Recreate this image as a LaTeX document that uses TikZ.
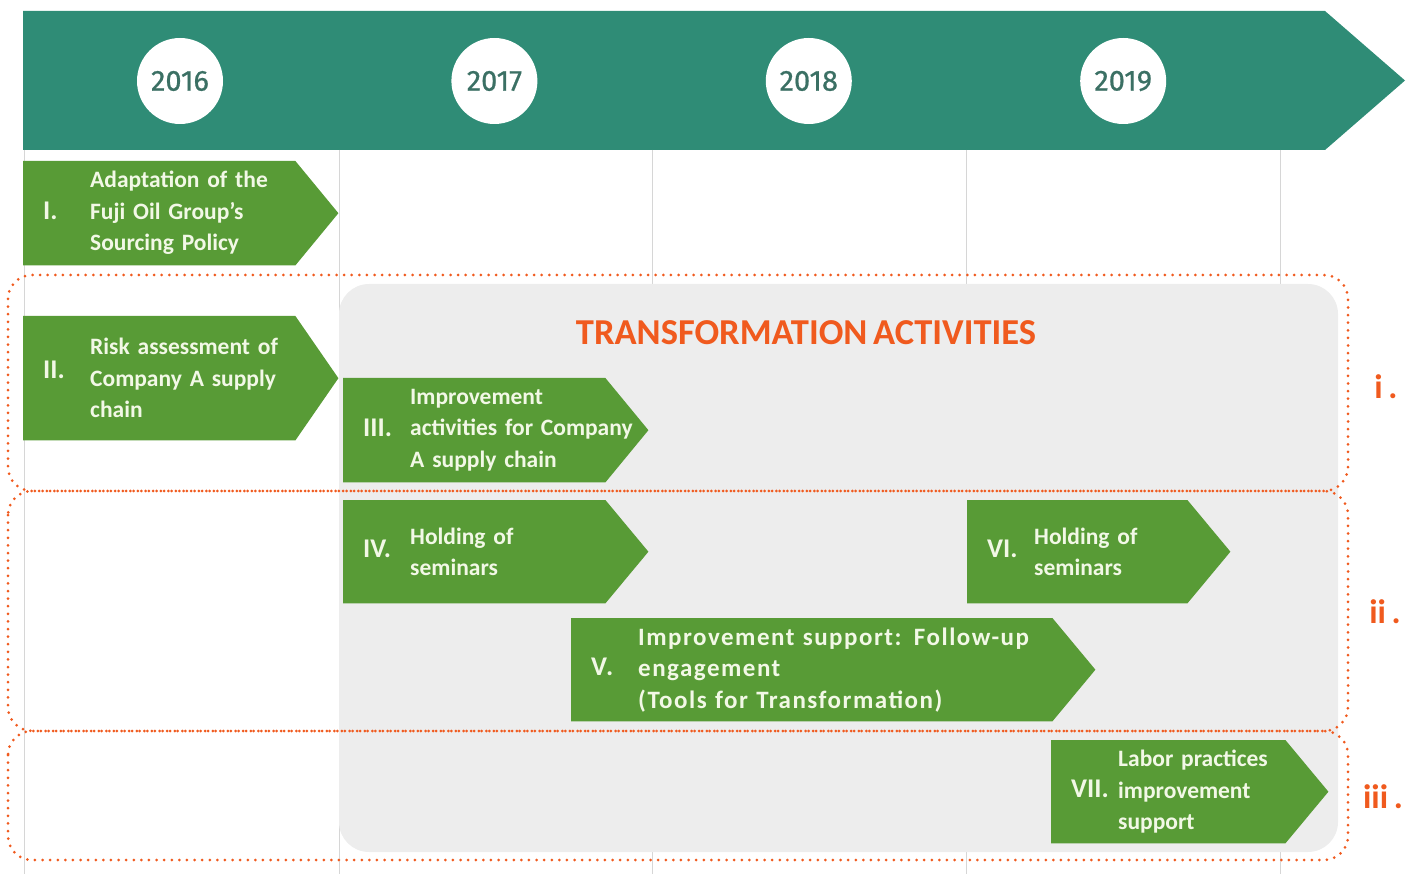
\documentclass[tikz,border=0pt]{standalone}
\usepackage{fontspec}
\setmainfont{Carlito}[WordSpace=0.7]
\newfontfamily\yearfont{Fira Sans}[FakeBold=0.7]
\newfontfamily\widefont{Carlito}[LetterSpace=6, WordSpace=0.8]
\usetikzlibrary{positioning, calc, backgrounds}

\definecolor{bannerteal}{HTML}{2F8C76}
\definecolor{stepgreen}{HTML}{589B36}
\definecolor{stepink}{HTML}{F2F8E6}
\definecolor{zonegray}{HTML}{EDEDED}
\definecolor{tforange}{HTML}{F05A1E}
\definecolor{yearink}{HTML}{3B7064}
\definecolor{gridgray}{HTML}{D6D6D6}

\tikzstyle{stepbox} = [rectangle, text=stepink, anchor=north west, inner xsep=20pt, inner ysep=0pt, align=left, font=\fontsize{23.5}{31.5}\selectfont\bfseries]
\tikzstyle{zone} = [draw=tforange, line width=3pt, line cap=round, dash pattern=on 0pt off 7.6pt, rounded corners=24pt]

% numeral column + text lines of a step
\newcommand{\stepitem}[2]{\raisebox{-2pt}{\makebox[47pt][l]{\fontsize{27}{27}\selectfont #1}\parbox[c]{460pt}{#2}}}

\begin{document}
\begin{tikzpicture}[
    x=1pt, y=-1pt,
    year/.style={circle, fill=white, minimum size=86pt, inner sep=0pt, text=yearink, font=\yearfont\fontsize{29}{29}\selectfont},
    grid/.style={draw=gridgray, line width=1pt},
    zonelabel/.style={text=tforange, font=\fontsize{34}{34}\selectfont\bfseries},
    steparrow/.style={fill=stepgreen}
]
\useasboundingbox (0,0) rectangle (1417,874);

% Year markers
\node (y2016) [year] at (180,81) {2016};
\node (y2017) [year, right=228pt of y2016] {2017};
\node (y2018) [year, right=228pt of y2017] {2018};
\node (y2019) [year, right=228pt of y2018] {2019};

\node (title) at (806,333) [text=tforange, font=\fontsize{36.5}{36}\selectfont\bfseries] {TRANSFORMATION ACTIVITIES};

% Steps
\node (s1) [stepbox, text width=232pt, minimum height=104pt] at (23,161) {\stepitem{I.}{Adaptation of the\\Fuji Oil Group’s\\Sourcing Policy}};
\node (s2) [stepbox, text width=232pt, minimum height=124pt] at (23,316) {\stepitem{\raisebox{6pt}{II.}}{Risk assessment of\\Company A supply\\chain}};
\node (s3) [stepbox, text width=222pt, minimum height=104pt] at (343,378) {\stepitem{III.}{Improvement\\activities for Company\\A supply chain}};
\node (s4) [stepbox, text width=222pt, minimum height=103pt] at (343,500) {\stepitem{IV.}{Holding of\\seminars}};
\node (s6) [stepbox, text width=180pt, minimum height=103pt] at (967,500) {\stepitem{VI.}{Holding of\\seminars}};
\node (s5) [stepbox, text width=441pt, minimum height=103pt, font=\widefont\fontsize{25}{31.5}\selectfont\bfseries] at (571,618) {\stepitem{V.}{Improvement support: Follow-up\\engagement\\(Tools for Transformation)}};
\node (s7) [stepbox, text width=194pt, minimum height=103pt] at (1051,740) {\stepitem{VII.}{Labor practices\\improvement\\support}};

\begin{scope}[on background layer]
    % Timeline banner
    \fill[bannerteal] (23,11) -- (1325,11) -- (1405,80.5) -- (1325,150) -- (23,150) -- cycle;
    % Year grid
    \foreach \x in {24,339,652,966,1280}
        \draw[grid] (\x,150) -- (\x,874);
    % Transformation area
    \fill[zonegray, rounded corners=30pt] (339,284) rectangle (1338,852);
    % Step arrows
    \foreach \s in {s1,s2,s3,s4,s5,s6,s7}
        \fill[steparrow] (\s.north west) -- (\s.north east) -- ($(\s.east)+(43,0)$) -- (\s.south east) -- (\s.south west) -- cycle;
\end{scope}

% Zones
\draw[zone] (8,275) rectangle (1348,491);
\draw[zone] (8,491) rectangle (1348,731);
\draw[zone] (8,731) rectangle (1348,860);

\node (zi) [zonelabel] at (1386,387) {i\,.};
\node (zii) [zonelabel] at (1385,612) {ii\,.};
\node (ziii) [zonelabel] at (1383,797) {iii\,.};

\end{tikzpicture}
\end{document}
